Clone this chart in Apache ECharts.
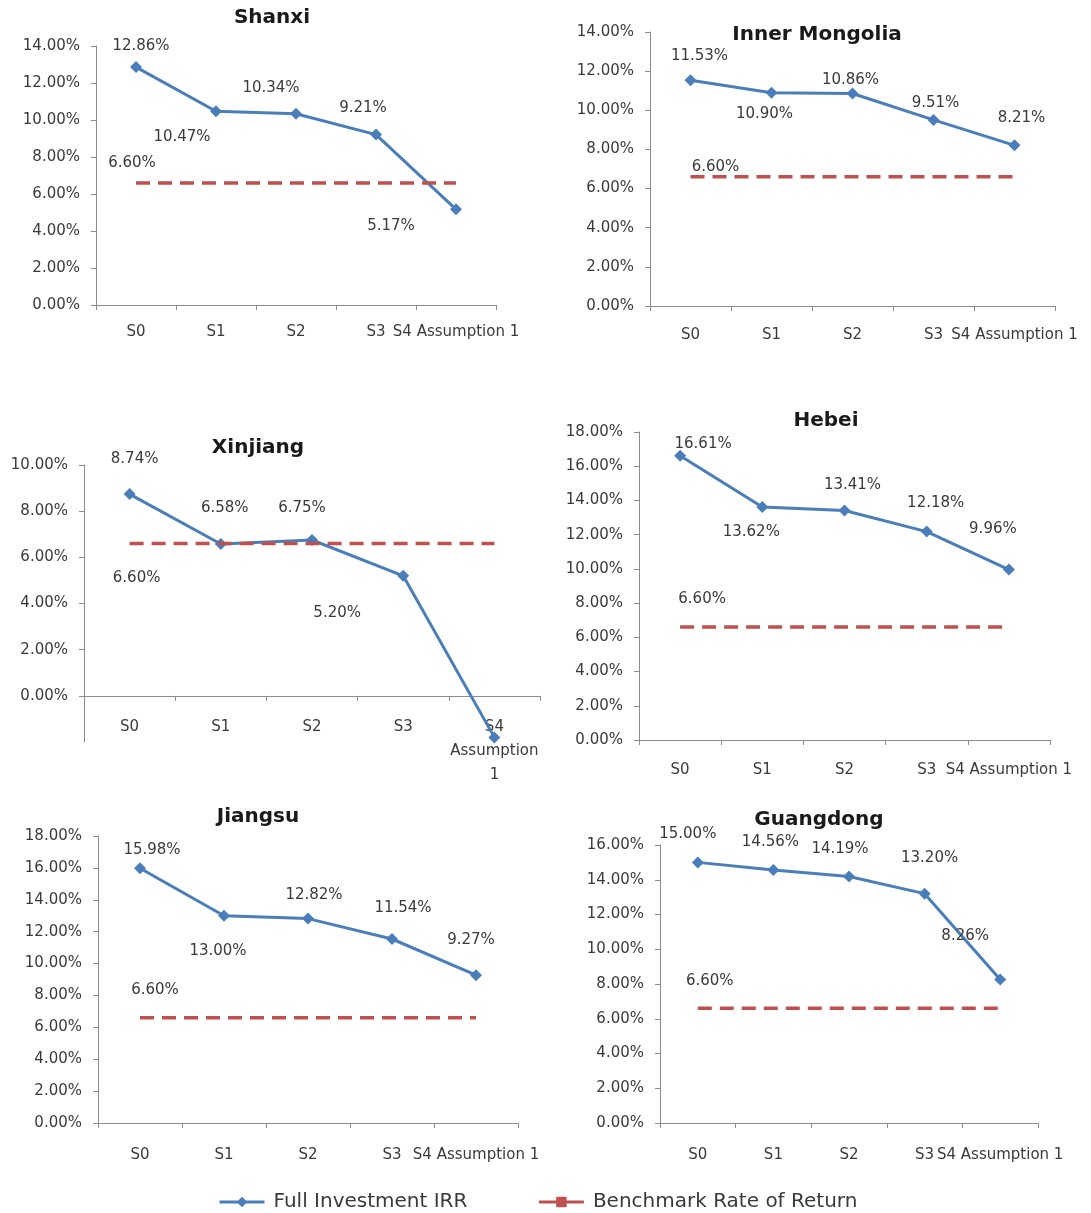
<!DOCTYPE html>
<html>
<head>
<meta charset="utf-8">
<title>Full Investment IRR by Province</title>
<script src="https://cdn.jsdelivr.net/npm/echarts@6/dist/echarts.min.js"></script>
<style>
  html, body { margin: 0; padding: 0; background: #ffffff; }
  #chart { width: 1091px; height: 1213px; }
</style>
</head>
<body>
<div id="chart"></div>
<script>
// ---- Data ----
const categories = ['S0', 'S1', 'S2', 'S3', 'S4 Assumption 1'];
const regions = ['Shanxi', 'Inner Mongolia', 'Xinjiang', 'Hebei', 'Jiangsu', 'Guangdong'];

// Full investment IRR (%) per scenario
const irrShanxi        = [12.86, 10.47, 10.34, 9.21, 5.17];
const irrInnerMongolia = [11.53, 10.90, 10.86, 9.51, 8.21];
const irrXinjiang      = [8.74, 6.58, 6.75, 5.20, -1.80];
const irrHebei         = [16.61, 13.62, 13.41, 12.18, 9.96];
const irrJiangsu       = [15.98, 13.00, 12.82, 11.54, 9.27];
const irrGuangdong     = [15.00, 14.56, 14.19, 13.20, 8.26];

// Benchmark rate of return (%)
const benchmarkRate = [6.60, 6.60, 6.60, 6.60, 6.60];

// Value-axis ranges per panel (%)
const yMin = [0, 0, -2, 0, 0, 0];
const yMax = [14, 14, 10, 18, 18, 16];
const yStep = 2;

const irrByRegion = [irrShanxi, irrInnerMongolia, irrXinjiang, irrHebei, irrJiangsu, irrGuangdong];

const SERIES_IRR = 'Full Investment IRR';
const SERIES_BENCH = 'Benchmark Rate of Return';

// ---- Panel layout (pixels) and label placement ----
const panelLayout = [
  { grid: { left: 96,  top: 46,  width: 400, height: 259 }, title: [272, 18], catMargin: 15,
    irrLabel: [[5, -21], [-34, 26], [-25, -26], [-13, -27], [-65, 17]], benchLabel: [-4, -20] },
  { grid: { left: 650, top: 32,  width: 405, height: 274 }, title: [817, 35], catMargin: 17,
    irrLabel: [[9, -24], [-7, 21], [-2, -13], [2, -17], [7, -27]], benchLabel: [25, -10] },
  { grid: { left: 84,  top: 465, width: 456, height: 277 }, title: [258, 448], catMargin: -27,
    irrLabel: [[5, -35], [4, -36], [-10, -32], [-66, 37], null], benchLabel: [7, 35], stackedCategory: true },
  { grid: { left: 639, top: 432, width: 411, height: 308 }, title: [826, 421], catMargin: 18,
    irrLabel: [[23, -12], [-11, 25], [8, -25], [9, -28], [-16, -40]], benchLabel: [22, -28] },
  { grid: { left: 98,  top: 836, width: 420, height: 287 }, title: [258, 817], catMargin: 20,
    irrLabel: [[12, -18], [-6, 35], [6, -23], [11, -31], [-5, -35]], benchLabel: [15, -28] },
  { grid: { left: 660, top: 845, width: 378, height: 278 }, title: [819, 820], catMargin: 20,
    irrLabel: [[-10, -28], [-3, -28], [-9, -27], [5, -36], [-35, -43]], benchLabel: [12, -27] }
];

// ---- Styling ----
const FONT = 'DejaVu Sans';
const TEXT_COLOR = '#3a3a3a';
const AXIS_COLOR = '#8c8c8c';
const BLUE = '#4a7ebb';
const RED = '#c0504d';

const pct = v => Number(v).toFixed(2) + '%';

function valueTicks(min, max, step) {
  const out = [];
  for (let v = Math.max(min, 0); v <= max + 1e-9; v += step) out.push(v);
  return out;
}

const grids = [], xAxes = [], yAxes = [], titles = [], series = [];

regions.forEach((region, i) => {
  const L = panelLayout[i];
  grids.push(Object.assign({ containLabel: false }, L.grid));

  titles.push({
    text: region,
    left: L.title[0],
    top: L.title[1],
    textAlign: 'center',
    textVerticalAlign: 'middle',
    padding: 0,
    textStyle: { fontFamily: FONT, fontSize: 20, fontWeight: 'bold', color: '#1a1a1a' }
  });

  xAxes.push({
    type: 'category',
    gridIndex: i,
    data: categories,
    boundaryGap: true,
    axisLine: { show: true, onZero: true, lineStyle: { color: AXIS_COLOR, width: 1 } },
    axisTick: { show: true, interval: 0, alignWithLabel: false, length: 5, lineStyle: { color: AXIS_COLOR } },
    splitLine: { show: false },
    axisLabel: {
      interval: 0,
      margin: L.catMargin,
      fontFamily: FONT,
      fontSize: 15,
      color: TEXT_COLOR,
      lineHeight: 24,
      formatter: L.stackedCategory ? (v => v.split(' ').join('\n')) : (v => v)
    }
  });

  const yAxis = {
    type: 'value',
    gridIndex: i,
    min: yMin[i],
    max: yMax[i],
    interval: yStep,
    axisLine: { show: true, onZero: false, lineStyle: { color: AXIS_COLOR, width: 1 } },
    axisTick: { show: true, length: 5, lineStyle: { color: AXIS_COLOR } },
    splitLine: { show: false },
    axisLabel: { formatter: pct, fontFamily: FONT, fontSize: 15, color: TEXT_COLOR, margin: 16 }
  };
  if (yMin[i] < 0) {
    // negative range is shown without a tick label
    const ticks = valueTicks(yMin[i], yMax[i], yStep);
    yAxis.axisLabel.customValues = ticks;
    yAxis.axisTick.customValues = ticks;
  }
  yAxes.push(yAxis);

  const labelBase = {
    position: 'inside',
    fontFamily: FONT,
    fontSize: 15,
    color: TEXT_COLOR,
    formatter: p => pct(p.value)
  };

  series.push({
    name: SERIES_IRR,
    type: 'line',
    xAxisIndex: i,
    yAxisIndex: i,
    clip: false,
    symbol: 'diamond',
    symbolSize: 12,
    lineStyle: { color: BLUE, width: 3 },
    itemStyle: { color: BLUE },
    label: Object.assign({ show: true }, labelBase),
    z: 3,
    data: irrByRegion[i].map((v, j) => ({
      value: v,
      label: L.irrLabel[j] ? { show: true, offset: L.irrLabel[j] } : { show: false }
    }))
  });

  series.push({
    name: SERIES_BENCH,
    type: 'line',
    xAxisIndex: i,
    yAxisIndex: i,
    symbol: 'rect',
    symbolSize: 0,
    lineStyle: { color: RED, width: 3.5, type: [14, 8] },
    itemStyle: { color: RED },
    label: Object.assign({ show: false }, labelBase),
    z: 4,
    data: benchmarkRate.map((v, j) => ({
      value: v,
      label: j === 0 ? { show: true, offset: L.benchLabel } : { show: false }
    }))
  });
});

const chart = echarts.init(document.getElementById('chart'), null, { renderer: 'canvas' });
chart.setOption({
  backgroundColor: '#ffffff',
  animation: false,
  title: titles,
  grid: grids,
  xAxis: xAxes,
  yAxis: yAxes,
  legend: {
    data: [SERIES_IRR, SERIES_BENCH],
    left: 218,
    top: 1192,
    padding: 0,
    itemWidth: 45,
    itemHeight: 13,
    itemGap: 70,
    lineStyle: { type: 'solid', width: 3 },
    textStyle: { fontFamily: FONT, fontSize: 20, color: TEXT_COLOR, padding: [0, 0, 0, 4] }
  },
  series: series
});
</script>
</body>
</html>
